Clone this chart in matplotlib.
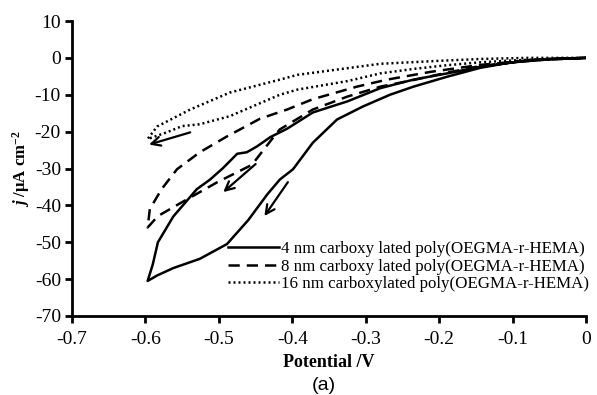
import matplotlib
matplotlib.use("Agg")
import matplotlib.pyplot as plt

plt.rcParams['font.family'] = ['Liberation Serif', 'DejaVu Serif']
plt.rcParams['mathtext.fontset'] = 'custom'
plt.rcParams['mathtext.rm'] = 'Liberation Serif:bold'
plt.rcParams['mathtext.it'] = 'Liberation Serif:italic:bold'
plt.rcParams['mathtext.bf'] = 'Liberation Serif:bold'

# 4 nm (solid): cathodic sweep then return sweep
x4 = [0.0, -0.04, -0.076, -0.11, -0.144, -0.189, -0.235, -0.267, -0.304, -0.331, -0.339,
      -0.372, -0.399, -0.417, -0.434, -0.46, -0.489, -0.526, -0.562, -0.584, -0.597,
      -0.59, -0.583, -0.562, -0.53, -0.512, -0.495, -0.475, -0.462, -0.448, -0.43,
      -0.407, -0.372, -0.325, -0.28, -0.235, -0.189, -0.144, -0.1, -0.05, 0.0]
y4 = [0.0, -0.2, -0.6, -1.5, -2.7, -5.1, -7.8, -10.0, -13.2, -15.9, -16.7,
      -23.0, -30.2, -33.0, -37.0, -44.0, -50.5, -54.5, -57.0, -59.0, -60.5,
      -56.0, -50.0, -43.0, -35.6, -33.0, -30.0, -26.0, -25.6, -24.0, -21.5,
      -19.2, -14.8, -11.8, -8.2, -5.9, -4.2, -2.4, -1.2, -0.4, 0.0]

# 8 nm (dashed)
x8 = [0.0, -0.05, -0.1, -0.144, -0.189, -0.235, -0.28, -0.325, -0.372, -0.417, -0.426,
      -0.455, -0.48, -0.502, -0.549, -0.583, -0.597,
      -0.594, -0.578, -0.557, -0.526, -0.489, -0.444, -0.407, -0.372, -0.312, -0.271,
      -0.212, -0.144, -0.08, 0.0]
y8 = [0.0, -0.3, -1.2, -2.2, -4.0, -6.0, -7.8, -10.5, -14.0, -19.4, -21.6,
      -29.0, -31.5, -33.7, -39.0, -42.9, -46.0,
      -41.0, -35.6, -30.2, -25.6, -21.3, -16.5, -14.0, -11.2, -7.8, -5.9,
      -3.8, -1.9, -0.7, 0.0]

# 16 nm (dotted)
x16 = [0.0, -0.05, -0.1, -0.144, -0.19, -0.235, -0.28, -0.325, -0.393, -0.417, -0.485,
       -0.526, -0.55, -0.571, -0.597,
       -0.584, -0.539, -0.485, -0.417, -0.393, -0.28, -0.2, -0.144, -0.08, 0.0, 0.005]
y16 = [0.0, -0.3, -0.7, -1.2, -2.0, -3.0, -4.2, -6.3, -8.6, -10.0, -15.8,
       -18.0, -18.5, -20.2, -22.0,
       -18.6, -14.0, -9.4, -5.9, -4.6, -1.6, -0.8, -0.3, 0.0, 0.0, 0.3]

labels = ['4 nm carboxy lated poly(OEGMA-r-HEMA)',
          '8 nm carboxy lated poly(OEGMA-r-HEMA)',
          '16 nm carboxylated poly(OEGMA-r-HEMA)']

xticks = [-0.7, -0.6, -0.5, -0.4, -0.3, -0.2, -0.1, 0]
yticks = [10, 0, -10, -20, -30, -40, -50, -60, -70]

# arrows (start, end) in data coordinates
arrows = [((-0.539, -20.2), (-0.595, -23.5)),
          ((-0.45, -28.8), (-0.494, -36.4)),
          ((-0.406, -33.7), (-0.438, -42.9))]

fig = plt.figure(figsize=(5.97, 3.95), dpi=100)
ax = fig.add_axes([0.1206, 0.2, 0.861, 0.7468])

ax.plot(x4, y4, color='black', lw=1.8, ls='-', label=labels[0])
ax.plot(x8, y8, color='black', lw=1.8, ls=(0, (4.5, 2.8)), label=labels[1])
ax.plot(x16, y16, color='black', lw=1.8, ls=(0, (0.8, 1.2)), label=labels[2])

for (s, e) in arrows:
    ax.annotate('', xy=e, xytext=s,
                arrowprops=dict(arrowstyle='->', color='black', lw=1.6,
                                mutation_scale=16, shrinkA=0, shrinkB=0))

ax.set_xlim(-0.7, 0)
ax.set_ylim(-70, 10)
ax.set_xticks(xticks)
ax.set_xticklabels(['-0.7', '-0.6', '-0.5', '-0.4', '-0.3', '-0.2', '-0.1', '0'])
ax.set_yticks(yticks)
ax.set_yticklabels([str(v) for v in yticks])

for side in ['top', 'right']:
    ax.spines[side].set_visible(False)
for side in ['left', 'bottom']:
    ax.spines[side].set_linewidth(2.0)
ax.tick_params(direction='out', length=5, width=2.0, labelsize=14)
ax.tick_params(axis='x', pad=6)
ax.tick_params(axis='y', pad=3)

ax.set_xlabel('Potential /V', fontsize=13, fontweight='bold', labelpad=4)
ax.set_ylabel(r'$\mathit{j}$ /μA cm$^{-2}$', fontsize=12, fontweight='bold', labelpad=2)

leg = ax.legend(loc='lower right', bbox_to_anchor=(1.006, 0.08), frameon=False,
                fontsize=12.2, handlelength=3.0, handletextpad=0.15,
                labelspacing=0.1, borderpad=0, borderaxespad=0)

fig.text(0.543, 0.023, '(a)', fontsize=14, family='Liberation Sans', ha='center', va='center')

fig.savefig('out.png', dpi=100, facecolor='white')
